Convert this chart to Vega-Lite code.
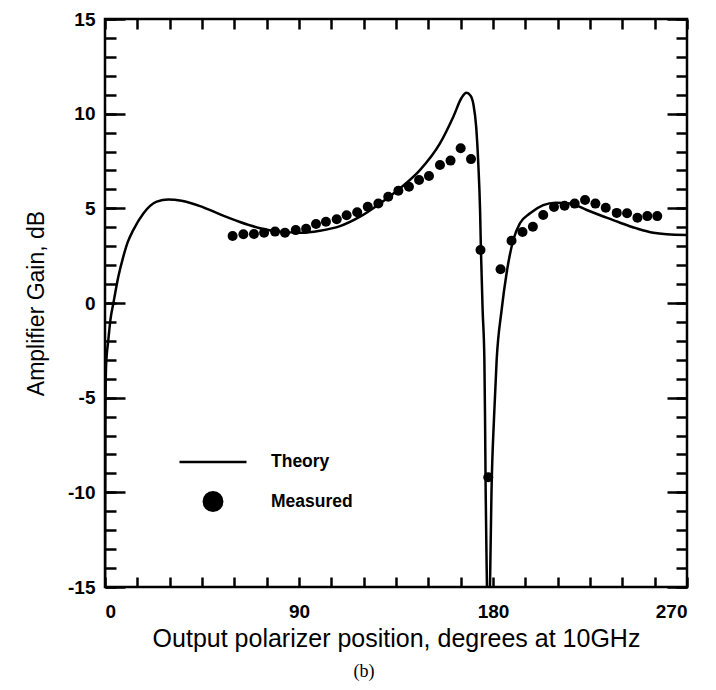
{
  "$schema": "https://vega.github.io/schema/vega-lite/v6.json",
  "width": 582,
  "height": 568,
  "autosize": {"type": "none"},
  "padding": {"left": 105, "top": 19, "right": 29, "bottom": 103},
  "background": "white",
  "config": {
    "view": {"stroke": "black", "strokeWidth": 2.5},
    "axis": {
      "domain": false, "grid": false, "tickColor": "black", "tickWidth": 2.5,
      "labelFont": "Liberation Sans", "labelFontWeight": "bold", "labelFontSize": 19, "labelColor": "black",
      "titleFont": "Liberation Sans", "titleFontWeight": "normal", "titleFontSize": 23, "titleColor": "black"
    },
    "legend": {
      "orient": "none", "legendX": 73, "legendY": 408, "title": null,
      "labelFont": "Liberation Sans", "labelFontWeight": "bold", "labelFontSize": 17.5, "labelColor": "black",
      "labelOffset": 23, "rowPadding": 16, "padding": 0, "symbolOpacity": 1
    }
  },
  "title": {"text": "(b)", "orient": "bottom", "anchor": "middle", "font": "Liberation Serif", "fontSize": 18, "fontWeight": "normal", "color": "black", "dx": -32, "offset": 12},
  "datasets": {
    "theory": [
      {"x": 0, "y": -15}, {"x": 0.2, "y": -6}, {"x": 0.5, "y": -3.3}, {"x": 1.5, "y": -2.0}, {"x": 2.5, "y": -0.9},
      {"x": 3.9, "y": 0.0}, {"x": 6.2, "y": 1.4}, {"x": 8.5, "y": 2.45}, {"x": 10.5, "y": 3.2}, {"x": 13.1, "y": 3.85},
      {"x": 17.8, "y": 4.73}, {"x": 24, "y": 5.35}, {"x": 29.4, "y": 5.47}, {"x": 35.5, "y": 5.4}, {"x": 44.1, "y": 5.12},
      {"x": 53.4, "y": 4.68}, {"x": 62.6, "y": 4.28}, {"x": 71.9, "y": 3.95}, {"x": 81.2, "y": 3.77}, {"x": 90.5, "y": 3.71},
      {"x": 99.7, "y": 3.82}, {"x": 109, "y": 4.06}, {"x": 118.3, "y": 4.56}, {"x": 127.6, "y": 5.26}, {"x": 136.9, "y": 6.06},
      {"x": 146.1, "y": 7.02}, {"x": 155.4, "y": 8.43}, {"x": 161.6, "y": 9.84}, {"x": 165.5, "y": 10.85}, {"x": 167.6, "y": 11.1},
      {"x": 169.6, "y": 10.95}, {"x": 170.9, "y": 10.5}, {"x": 172.2, "y": 9.3}, {"x": 173.2, "y": 7.3}, {"x": 174, "y": 4.9},
      {"x": 174.4, "y": 2.8}, {"x": 175.2, "y": -0.4}, {"x": 176, "y": -3.0}, {"x": 176.3, "y": -6}, {"x": 176.6, "y": -10},
      {"x": 177.2, "y": -15}, {"x": 177.9, "y": -20}, {"x": 178.6, "y": -15}, {"x": 179.3, "y": -10}, {"x": 180.5, "y": -6},
      {"x": 181.7, "y": -3.0}, {"x": 184, "y": -0.37}, {"x": 186.3, "y": 1.57}, {"x": 189.4, "y": 3.33}, {"x": 192.5, "y": 4.21},
      {"x": 197.2, "y": 4.74}, {"x": 203.3, "y": 5.17}, {"x": 209, "y": 5.3}, {"x": 215.7, "y": 5.26}, {"x": 223.5, "y": 4.91},
      {"x": 231.2, "y": 4.57}, {"x": 238.9, "y": 4.24}, {"x": 246.7, "y": 3.94}, {"x": 254.4, "y": 3.71}, {"x": 260.6, "y": 3.63},
      {"x": 270, "y": 3.59}
    ],
    "measured": [
      {"x": 59.2, "y": 3.54}, {"x": 64.2, "y": 3.63}, {"x": 69.1, "y": 3.64}, {"x": 73.8, "y": 3.71}, {"x": 78.9, "y": 3.77},
      {"x": 83.5, "y": 3.71}, {"x": 88.5, "y": 3.85}, {"x": 93.3, "y": 3.92}, {"x": 97.9, "y": 4.17}, {"x": 102.5, "y": 4.29},
      {"x": 107.5, "y": 4.42}, {"x": 112.1, "y": 4.63}, {"x": 117, "y": 4.79}, {"x": 121.9, "y": 5.08}, {"x": 126.8, "y": 5.26},
      {"x": 131.4, "y": 5.61}, {"x": 136.1, "y": 5.93}, {"x": 141, "y": 6.14}, {"x": 145.7, "y": 6.5}, {"x": 150.3, "y": 6.71},
      {"x": 155.4, "y": 7.29}, {"x": 160.3, "y": 7.52}, {"x": 165, "y": 8.17}, {"x": 169.8, "y": 7.6}, {"x": 174.2, "y": 2.8},
      {"x": 177.8, "y": -9.2}, {"x": 183.5, "y": 1.78}, {"x": 188.6, "y": 3.29}, {"x": 193.7, "y": 3.75}, {"x": 198.5, "y": 4.03},
      {"x": 203.3, "y": 4.65}, {"x": 208.3, "y": 5.07}, {"x": 213.2, "y": 5.14}, {"x": 217.9, "y": 5.25}, {"x": 222.7, "y": 5.44},
      {"x": 227.5, "y": 5.25}, {"x": 232.3, "y": 5.03}, {"x": 237.4, "y": 4.76}, {"x": 242.2, "y": 4.74}, {"x": 247, "y": 4.5},
      {"x": 251.6, "y": 4.59}, {"x": 256.2, "y": 4.59}
    ]
  },
  "layer": [
    {
      "data": {"name": "theory"},
      "mark": {"type": "line", "color": "black", "strokeWidth": 2.5, "clip": true, "interpolate": "monotone"},
      "encoding": {
        "x": {"field": "x", "type": "quantitative", "scale": {"domain": [0, 270], "nice": false},
              "axis": {"orient": "bottom", "values": [0,15,30,45,60,75,90,105,120,135,150,165,180,195,210,225,240,255,270],
                       "labelExpr": "datum.value % 90 === 0 ? '' + datum.value : ''", "tickSize": -10, "labelPadding": 25,
                       "title": "Output polarizer position, degrees at 10GHz", "titleFontSize": 25, "titlePadding": 5}},
        "y": {"field": "y", "type": "quantitative", "scale": {"domain": [-15, 15], "nice": false},
              "axis": {"orient": "left", "values": [-15,-10,-5,0,5,10,15], "labelExpr": "'' + datum.value", "tickSize": -20, "labelPadding": 30,
                       "title": "Amplifier Gain, dB", "titlePadding": 19}}
      }
    },
    {
      "data": {"name": "measured"},
      "mark": {"type": "point", "filled": true, "color": "black", "opacity": 1, "size": 100},
      "encoding": {
        "x": {"field": "x", "type": "quantitative", "scale": {"domain": [0, 270], "nice": false},
              "axis": {"orient": "top", "values": [0,15,30,45,60,75,90,105,120,135,150,165,180,195,210,225,240,255,270],
                       "labels": false, "tickSize": -10, "title": null}},
        "y": {"field": "y", "type": "quantitative", "scale": {"domain": [-15, 15], "nice": false},
              "axis": {"orient": "left", "values": [-15,-14,-13,-12,-11,-10,-9,-8,-7,-6,-5,-4,-3,-2,-1,0,1,2,3,4,5,6,7,8,9,10,11,12,13,14,15],
                       "labels": false, "tickSize": -11, "title": null}}
      }
    },
    {
      "data": {"name": "theory"},
      "transform": [{"filter": "false"}],
      "mark": {"type": "point", "filled": true, "fill": "black", "stroke": "black", "strokeWidth": 2.5, "opacity": 1},
      "encoding": {
        "x": {"field": "x", "type": "quantitative", "scale": {"domain": [0, 270], "nice": false}, "axis": null},
        "y": {"field": "y", "type": "quantitative", "scale": {"domain": [-15, 15], "nice": false},
              "axis": {"orient": "right", "values": [-15,-10,-5,0,5,10,15], "labels": false, "tickSize": -20, "title": null}},
        "shape": {"field": "series", "type": "nominal",
                  "scale": {"domain": ["Theory", "Measured"], "range": ["stroke", "circle"]},
                  "legend": {"symbolStrokeWidth": 2.5, "symbolStrokeColor": "black"}},
        "size": {"field": "series", "type": "nominal",
                 "scale": {"domain": ["Theory", "Measured"], "range": [4489, 340]}}
      }
    },
    {
      "data": {"name": "theory"},
      "transform": [{"filter": "false"}],
      "mark": {"type": "line"},
      "encoding": {
        "x": {"field": "x", "type": "quantitative", "scale": {"domain": [0, 270], "nice": false}, "axis": null},
        "y": {"field": "y", "type": "quantitative", "scale": {"domain": [-15, 15], "nice": false},
              "axis": {"orient": "right", "values": [-15,-14,-13,-12,-11,-10,-9,-8,-7,-6,-5,-4,-3,-2,-1,0,1,2,3,4,5,6,7,8,9,10,11,12,13,14,15],
                       "labels": false, "tickSize": -11, "title": null}}
      }
    }
  ],
  "resolve": {"axis": {"x": "independent", "y": "independent"}}
}
